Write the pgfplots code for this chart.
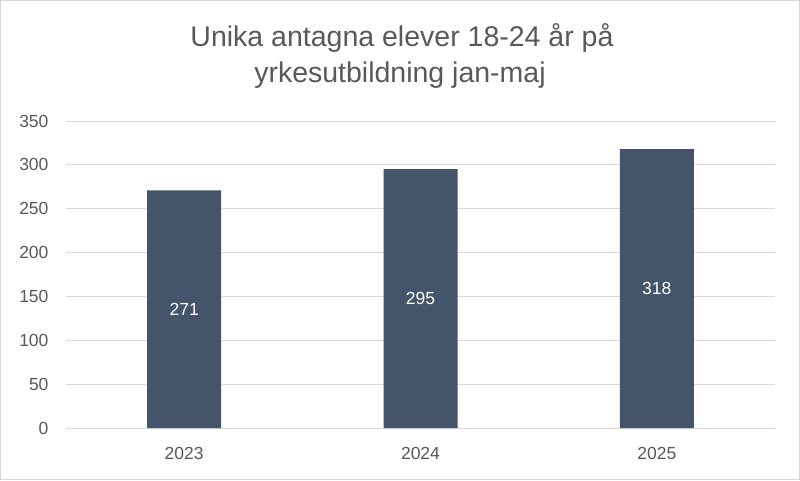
\documentclass[border=0pt]{standalone}
\usepackage{pgfplots}
\pgfplotsset{compat=1.18}
\usepackage{fontspec}
\setmainfont{Liberation Sans}
\definecolor{barcol}{HTML}{44546A}
\definecolor{txtcol}{HTML}{595959}
\definecolor{gridcol}{HTML}{D9D9D9}
\begin{document}
\begin{tikzpicture}[x=1pt,y=1pt]
\draw[gridcol, line width=1pt, fill=white] (0.5,0.5) rectangle (799.5,479.5);
\node[txtcol, anchor=base, font=\fontsize{28.5}{34}\selectfont] at (402,433) {Unika antagna elever 18-24 år på};
\node[txtcol, anchor=base, font=\fontsize{28.5}{34}\selectfont] at (400,397) {yrkesutbildning jan-maj};
\begin{axis}[
    at={(66pt,52pt)}, anchor=south west,
    scale only axis,
    width=709pt, height=307pt,
    xmin=-0.5, xmax=2.5,
    ymin=0, ymax=350,
    ytick={0,50,100,150,200,250,300,350},
    xtick={0,1,2},
    xticklabels={2023,2024,2025},
    ymajorgrids=true,
    grid style={gridcol, line width=1pt},
    axis x line*=bottom,
    axis y line*=left,
    y axis line style={draw=none},
    x axis line style={gridcol, line width=1pt, -},
    major tick length=0pt,
    tick label style={txtcol, font=\fontsize{17.5}{21}\selectfont},
    /pgf/number format/assume math mode=true,
    yticklabel style={anchor=east, xshift=-14pt},
    xticklabel style={yshift=-16pt},
]
\addplot[ybar, bar width=74pt, fill=barcol, draw=none,
    nodes near coords,
    visualization depends on={rawy \as \rawy},
    every node near coord/.append style={white, anchor=center,
        font=\fontsize{17.5}{21}\selectfont,
        shift={(axis direction cs:0,-\rawy/2)}},
] coordinates {(0,271) (1,295) (2,318)};
\end{axis}
\end{tikzpicture}
\end{document}
